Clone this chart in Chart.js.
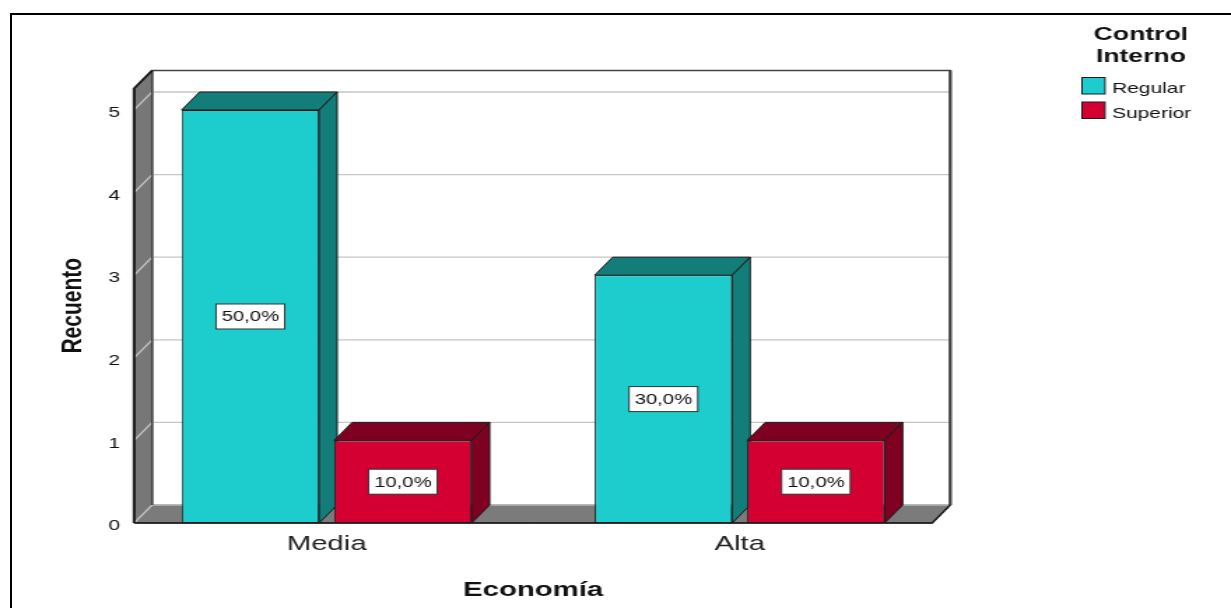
<!DOCTYPE html>
<html>
<head>
<meta charset="utf-8">
<title>Economía - Control Interno</title>
<script src="https://cdn.jsdelivr.net/npm/chart.js@4.4.1/dist/chart.umd.min.js"></script>
<style>
  html, body { margin: 0; padding: 0; background: #fff; }
  #wrap { position: relative; width: 1231px; height: 608px; overflow: hidden; }
  #frame { position: absolute; left: 10px; top: 13px; right: 0; bottom: 0; border-left: 2px solid #000; border-top: 2px solid #000; }
  #chart { position: absolute; left: 0; top: 0; }
</style>
</head>
<body>
<div id="wrap">
  <div id="frame"></div>
  <!-- the SPSS export is stretched sideways, so draw on a narrower canvas and scale it up -->
  <canvas id="chart" width="880" height="608" style="width:1231px;height:608px"></canvas>
</div>
<script>
// data
const categories = ['Media', 'Alta'];
const seriesNames = ['Regular', 'Superior'];
const regularCounts = [5, 3];
const superiorCounts = [1, 1];
const regularPct = ['50,0%', '30,0%'];
const superiorPct = ['10,0%', '10,0%'];
const yTicks = [0, 1, 2, 3, 4, 5];
const yMax = 5.26;
const legendTitle = ['Control', 'Interno'];

// look
const FONT = "'Liberation Sans', Arial, sans-serif";
const DX = 12.9, DY = 18;      // depth of the 3d box
const INSET = 10;              // front plane inside the chart area
const frontColors = ['#1dcdcd', '#d50032'];
const sideColors = ['#137d7a', '#7f0020'];
const edge = '#1c1c1c';

Chart.defaults.font.family = FONT;

function poly(ctx, pts, fill, stroke, lw) {
    ctx.beginPath();
    ctx.moveTo(pts[0][0], pts[0][1]);
    for (let i = 1; i < pts.length; i++) ctx.lineTo(pts[i][0], pts[i][1]);
    ctx.closePath();
    if (fill) { ctx.fillStyle = fill; ctx.fill(); }
    if (stroke) { ctx.strokeStyle = stroke; ctx.lineWidth = lw || 1; ctx.stroke(); }
}

function line(ctx, pts, color, lw) {
    ctx.beginPath();
    ctx.moveTo(pts[0][0], pts[0][1]);
    for (let i = 1; i < pts.length; i++) ctx.lineTo(pts[i][0], pts[i][1]);
    ctx.strokeStyle = color; ctx.lineWidth = lw; ctx.stroke();
}

const box3d = {
    id: 'box3d',
    beforeDatasetsDraw(chart) {
        const ctx = chart.ctx;
        const { left, right, top, bottom } = chart.chartArea;
        const y = chart.scales.y;
        const fl = left + INSET, fr = right - INSET;
        ctx.save();
        // back wall
        poly(ctx, [[fl + DX, top - DY], [fr + DX, top - DY], [fr + DX, bottom - DY], [fl + DX, bottom - DY]], '#fff');
        // left wall
        poly(ctx, [[fl, top], [fl + DX, top - DY], [fl + DX, bottom - DY], [fl, bottom]], '#777', edge, 1);
        // floor
        poly(ctx, [[fl, bottom], [fr, bottom], [fr + DX, bottom - DY], [fl + DX, bottom - DY]], '#7b7b7b', edge, 1);
        // grid lines on the walls
        yTicks.forEach(v => {
            const py = y.getPixelForValue(v);
            line(ctx, [[fl, py], [fl + DX, py - DY], [fr + DX, py - DY]], '#c6c6c6', 1.3);
        });
        // wall edges
        line(ctx, [[fl + DX, bottom - DY], [fl + DX, top - DY], [fr + DX, top - DY], [fr + DX, bottom - DY]], '#444', 1.6);
        line(ctx, [[fr + DX, bottom - DY], [fr + DX, top - DY]], '#444', 2.2);
        line(ctx, [[fl, bottom], [fl, top], [fl + DX, top - DY]], '#1a1a1a', 2);
        line(ctx, [[fl, bottom], [fr, bottom], [fr + DX, bottom - DY]], '#1a1a1a', 1.4);

        // top and right faces of the bars, under the front faces
        chart.data.datasets.forEach((ds, di) => {
            const meta = chart.getDatasetMeta(di);
            meta.data.forEach(bar => {
                const { x, y: by, base, width } = bar.getProps(['x', 'y', 'base', 'width'], true);
                const l = x - width / 2, r = x + width / 2;
                poly(ctx, [[l, by], [l + DX, by - DY], [r + DX, by - DY], [r, by]], sideColors[di], edge, 1);
                poly(ctx, [[r, by], [r + DX, by - DY], [r + DX, base - DY], [r, base]], sideColors[di], edge, 1);
            });
        });
        ctx.restore();
    },
    afterDatasetsDraw(chart) {
        const ctx = chart.ctx;
        ctx.save();
        ctx.font = '14.5px ' + FONT;
        ctx.textAlign = 'center';
        ctx.textBaseline = 'middle';
        chart.data.datasets.forEach((ds, di) => {
            chart.getDatasetMeta(di).data.forEach((bar, i) => {
                const { x, y: by, base } = bar.getProps(['x', 'y', 'base'], true);
                const txt = ds.pct[i];
                const cy = (by + base) / 2;
                const bw = ctx.measureText(txt).width + 8, bh = 25;
                ctx.fillStyle = '#fff';
                ctx.fillRect(x - bw / 2, cy - bh / 2, bw, bh);
                ctx.strokeStyle = '#333';
                ctx.lineWidth = 1;
                ctx.strokeRect(x - bw / 2, cy - bh / 2, bw, bh);
                ctx.fillStyle = '#111';
                ctx.fillText(txt, x, cy + 1);
            });
        });
        ctx.restore();
    },
    afterDraw(chart) {
        // legend, SPSS style
        const ctx = chart.ctx;
        ctx.save();
        ctx.fillStyle = '#111';
        ctx.textAlign = 'center';
        ctx.textBaseline = 'alphabetic';
        ctx.font = 'bold 19px ' + FONT;
        legendTitle.forEach((t, i) => ctx.fillText(t, 815.6, 40 + i * 22));
        ctx.textAlign = 'left';
        ctx.font = '15px ' + FONT;
        chart.data.datasets.forEach((ds, i) => {
            const by = 77.5 + i * 24.5;
            ctx.fillStyle = ds.backgroundColor;
            ctx.fillRect(773.5, by, 16.4, 16.5);
            ctx.strokeStyle = edge;
            ctx.lineWidth = 1;
            ctx.strokeRect(773.5, by, 16.4, 16.5);
            ctx.fillStyle = '#111';
            ctx.fillText(ds.label, 794.9, by + 15.5);
        });
        ctx.restore();
    }
};

new Chart(document.getElementById('chart'), {
    type: 'bar',
    data: {
        labels: categories,
        datasets: [
            { label: seriesNames[0], data: regularCounts, pct: regularPct, backgroundColor: frontColors[0] },
            { label: seriesNames[1], data: superiorCounts, pct: superiorPct, backgroundColor: frontColors[1] }
        ]
    },
    options: {
        responsive: false,
        animation: false,
        devicePixelRatio: 1,
        layout: { padding: { left: 40, right: 203.6, top: 88.5, bottom: 5.4 } },
        datasets: {
            bar: { categoryPercentage: 0.7385, barPercentage: 0.9016, borderWidth: 1, borderColor: edge, borderSkipped: false }
        },
        plugins: { legend: { display: false }, tooltip: { enabled: false } },
        scales: {
            x: {
                grid: { display: false, drawTicks: false },
                border: { display: false },
                ticks: { color: '#222', font: { size: 21 }, padding: 9 },
                title: { display: true, text: 'Economía', color: '#111', font: { size: 21, weight: 'bold' }, padding: { top: 11.2, bottom: 0 } }
            },
            y: {
                min: 0,
                max: yMax,
                afterBuildTicks: scale => { scale.ticks = yTicks.map(v => ({ value: v })); },
                grid: { display: false, drawTicks: false },
                border: { display: false },
                ticks: { color: '#111', font: { size: 15 }, padding: 0, labelOffset: 3 },
                title: { display: true, text: 'Recuento', color: '#111', font: { size: 21, weight: 'bold' }, padding: { top: 0, bottom: 12.3 } }
            }
        }
    },
    plugins: [box3d]
});
</script>
</body>
</html>
